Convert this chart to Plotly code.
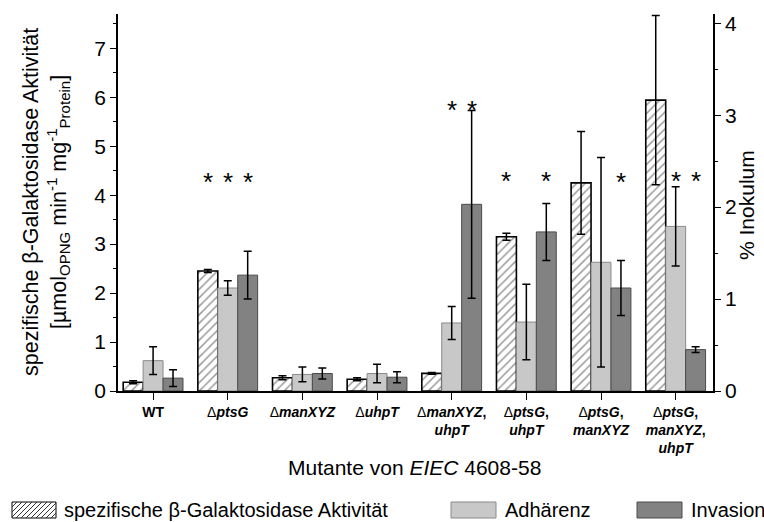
import plotly.graph_objects as go
import numpy as np

# ---------------- data ----------------
categories = [
    "<b>WT</b>",
    "Δ<b><i>ptsG</i></b>",
    "Δ<b><i>manXYZ</i></b>",
    "Δ<b><i>uhpT</i></b>",
    "Δ<b><i>manXYZ</i>,</b><br><b><i>uhpT</i></b>",
    "Δ<b><i>ptsG</i>,</b><br><b><i>uhpT</i></b>",
    "Δ<b><i>ptsG</i>,</b><br><b><i>manXYZ</i></b>",
    "Δ<b><i>ptsG</i>,</b><br><b><i>manXYZ</i>,</b><br><b><i>uhpT</i></b>",
]
galaktosidase = [0.18, 2.45, 0.27, 0.24, 0.36, 3.15, 4.25, 5.94]
galaktosidase_err = [0.03, 0.03, 0.04, 0.03, 0.02, 0.07, 1.05, 1.73]
adhaerenz = [0.33, 1.12, 0.18, 0.19, 0.74, 0.75, 1.40, 1.79]
adhaerenz_err = [0.15, 0.08, 0.08, 0.10, 0.18, 0.41, 1.14, 0.43]
invasion = [0.14, 1.26, 0.19, 0.15, 2.03, 1.73, 1.12, 0.45]
invasion_err = [0.09, 0.26, 0.06, 0.06, 1.02, 0.31, 0.30, 0.03]

# significance stars: (category index, series index, height on left axis)
star_cat = [1, 1, 1, 4, 4, 5, 5, 6, 7, 7]
star_series = [0, 1, 2, 1, 2, 0, 2, 2, 1, 2]
star_y = [4.27, 4.27, 4.27, 5.74, 5.74, 4.29, 4.29, 4.27, 4.29, 4.29]

series_names = ["spezifische β-Galaktosidase Aktivität", "Adhärenz", "Invasion"]

# ---------------- layout constants ----------------
W, H = 764, 522
L, R, T, B = 118, 51, 14, 131
PW, PH = W - L - R, H - T - B
FONT = "Liberation Sans, Arial, sans-serif"

x = np.arange(len(categories))
bw = 0.267
offsets = [-1.5 * bw, -0.5 * bw, 0.5 * bw]

fig = go.Figure()
err_style = dict(type="data", visible=True, color="black", thickness=1.5, width=4)

fig.add_trace(go.Bar(
    x=x, y=galaktosidase, width=bw, offset=offsets[0], name=series_names[0],
    marker=dict(color="white", line=dict(color="black", width=1.6),
                pattern=dict(shape="/", fgcolor="#333333", bgcolor="white", size=6, solidity=0.25)),
    error_y=dict(array=galaktosidase_err, **err_style),
    yaxis="y", showlegend=False))
fig.add_trace(go.Bar(
    x=x, y=adhaerenz, width=bw, offset=offsets[1], name=series_names[1],
    marker=dict(color="#c8c8c8", line=dict(color="#8a8a8a", width=1)),
    error_y=dict(array=adhaerenz_err, **err_style),
    yaxis="y2", showlegend=False))
fig.add_trace(go.Bar(
    x=x, y=invasion, width=bw, offset=offsets[2], name=series_names[2],
    marker=dict(color="#828282", line=dict(color="#4a4a4a", width=1)),
    error_y=dict(array=invasion_err, **err_style),
    yaxis="y2", showlegend=False))

annotations = []
for c, s, yv in zip(star_cat, star_series, star_y):
    annotations.append(dict(x=c + offsets[s] + bw / 2, y=yv, xref="x", yref="y", text="*",
                            showarrow=False, font=dict(size=26, color="black", family=FONT),
                            xanchor="center", yanchor="middle"))

def px_x(p):
    return (p - L) / PW

def px_y(p):
    return (H - B - p) / PH

# axis titles
annotations.append(dict(
    x=px_x(46), y=px_y(202), xref="paper", yref="paper", textangle=-90, showarrow=False,
    text="spezifische β-Galaktosidase Aktivität<br>[µmol<sub>OPNG</sub> min<sup>-1</sup> mg<sup>-1</sup><sub>Protein</sub>]",
    font=dict(size=21.5, family=FONT, color="black"), xanchor="center", yanchor="middle"))
annotations.append(dict(
    x=px_x(747), y=px_y(205), xref="paper", yref="paper", textangle=-90, showarrow=False,
    text="% Inokulum", font=dict(size=21, family=FONT, color="black"),
    xanchor="center", yanchor="middle"))
annotations.append(dict(
    x=px_x(414), y=px_y(467), xref="paper", yref="paper", showarrow=False,
    text="Mutante von <i>EIEC</i> 4608-58", font=dict(size=21, family=FONT, color="black"),
    xanchor="center", yanchor="middle"))

# custom legend
shapes = []
legend_boxes = [(12, 56), (451, 496), (637, 682)]
legend_text_x = [62, 503, 689]
ly0, ly1 = 502, 518
fills = ["white", "#c8c8c8", "#828282"]
lines = ["black", "#8a8a8a", "#4a4a4a"]
for (bx0, bx1), fc, lc in zip(legend_boxes, fills, lines):
    shapes.append(dict(type="rect", xref="paper", yref="paper",
                       x0=px_x(bx0), x1=px_x(bx1), y0=px_y(ly1), y1=px_y(ly0),
                       fillcolor=fc, line=dict(color=lc, width=1)))
# hatch inside first legend box
bx0, bx1 = legend_boxes[0]
for cc in np.arange(bx0 - (ly1 - ly0), bx1, 5):
    s = max(0, bx0 - cc)
    e = min(ly1 - ly0, bx1 - cc)
    if s < e:
        shapes.append(dict(type="line", xref="paper", yref="paper",
                           x0=px_x(cc + s), y0=px_y(ly1 - s), x1=px_x(cc + e), y1=px_y(ly1 - e),
                           line=dict(color="#333333", width=1)))
for name, tx in zip(series_names, legend_text_x):
    annotations.append(dict(x=px_x(tx), y=px_y(510), xref="paper", yref="paper", text=name,
                            showarrow=False, xanchor="left", yanchor="middle",
                            font=dict(size=20, family=FONT, color="black")))

fig.update_layout(
    width=W, height=H, margin=dict(l=L, r=R, t=T, b=B, autoexpand=False),
    paper_bgcolor="white", plot_bgcolor="white",
    barmode="overlay", showlegend=False,
    font=dict(family=FONT, color="black"),
    xaxis=dict(range=[-0.47, 7.5], tickvals=x, ticktext=categories,
               showline=True, linecolor="black", linewidth=1.5, mirror=False,
               ticks="outside", ticklen=7, tickwidth=1.2, tickcolor="black",
               tickfont=dict(size=14, family=FONT), showgrid=False, zeroline=False),
    yaxis=dict(range=[0, 7.7], dtick=1, tick0=0, showline=True, linecolor="black", linewidth=1.5,
               ticks="outside", ticklen=6, tickwidth=1.2, tickcolor="black",
               minor=dict(dtick=0.5, ticks="outside", ticklen=3, tickcolor="black", tickwidth=1),
               tickfont=dict(size=21, family=FONT), showgrid=False, zeroline=False),
    yaxis2=dict(range=[0, 4.1], dtick=1, tick0=0, overlaying="y", side="right", anchor="x",
                showline=True, linecolor="black", linewidth=1.5,
                ticks="outside", ticklen=6, tickwidth=1.2, tickcolor="black",
                minor=dict(dtick=0.5, ticks="outside", ticklen=3, tickcolor="black", tickwidth=1),
                tickfont=dict(size=21, family=FONT), showgrid=False, zeroline=False),
    annotations=annotations, shapes=shapes,
)

fig.write_html("out.html")
